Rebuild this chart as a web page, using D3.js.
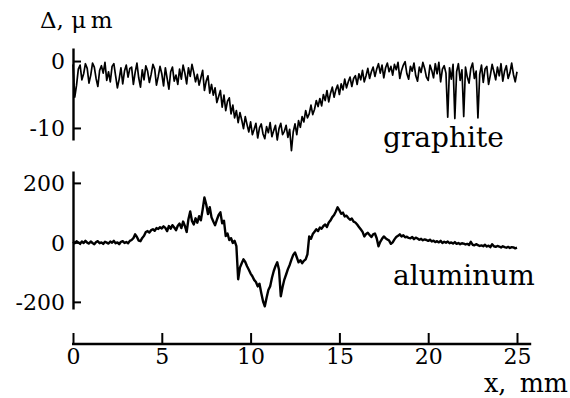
<!DOCTYPE html>
<html>
<head>
<meta charset="utf-8">
<script src="https://cdn.jsdelivr.net/npm/d3@7"></script>
<style>
  html, body { margin: 0; padding: 0; background: #fff; }
  svg { display: block; }
  .lbl { font-family: "DejaVu Serif", serif; font-size: 28px; fill: #000; }
</style>
</head>
<body>
<div id="chart"></div>
<script>
// x positions, mm (0.1 mm step)
const xStep = 0.1;
const xTicks = [0, 5, 10, 15, 20, 25];
const xExtent = [0, 25.8];

// graphite profile, um
const graphite = [
  -0.5, -5.4, -3.6, -1.2, -0.6, -2.8, -1.9, -0.4, -1.1, -3.3,
  -2.1, -0.3, -0.9, -2.6, -3.8, -1.4, -0.7, -1.8, -0.2, -2.9,
  -1.6, -3.1, -0.8, -0.4, -2.2, -4.0, -2.7, -1.0, -3.4, -1.5,
  -0.6, -2.4, -1.1, -0.9, -3.5, -1.7, -0.3, -2.5, -3.9, -1.3,
  -2.8, -0.7, -1.5, -3.2, -2.0, -0.5, -1.2, -3.6, -2.3, -0.8,
  -1.9, -3.7, -1.0, -2.6, -4.2, -1.6, -0.9, -3.0, -2.1, -3.5,
  -1.2, -2.7, -0.6, -1.8, -3.4, -1.0, -2.3, -0.5, -1.7, -3.1,
  -2.0, -3.6, -2.5, -1.4, -4.4, -3.0, -2.2, -4.8, -3.5, -5.1,
  -4.0, -6.2, -5.3, -4.4, -6.9, -5.1, -7.4, -6.0, -5.5, -7.9,
  -6.6, -8.5, -7.4, -9.2, -7.7, -8.8, -10.1, -8.3, -9.5, -10.6,
  -9.1, -11.0, -10.2, -9.3, -11.5, -10.0, -9.4, -10.9, -11.6, -9.8,
  -10.7, -9.2, -11.3, -10.4, -9.6, -11.8, -10.1, -9.3, -11.0, -10.5,
  -9.6, -11.4, -10.2, -13.4, -10.6, -9.4, -11.0, -8.9, -9.9, -8.3,
  -9.1, -7.4, -8.5, -7.9, -6.6, -8.0, -7.2, -5.9, -6.8, -5.6,
  -6.7, -5.0, -5.9, -4.4, -6.1, -4.8, -3.9, -5.4, -4.3, -3.6,
  -5.0, -3.4, -4.3, -2.7, -4.0, -3.1, -2.4, -3.8, -2.6, -2.2,
  -3.5, -1.9, -2.8, -1.4, -3.1, -2.2, -1.1, -2.6, -1.6, -0.9,
  -2.3, -1.2, -0.4, -1.8, -0.6, -2.5, -1.0, -0.3, -1.6, -0.8,
  -2.1, -0.5, -1.3, -0.2, -2.6, -1.4, -0.6, -0.1, -1.9, -2.7,
  -0.8, -1.5, -0.3, -2.2, -3.0, -0.9, -1.7, -0.2, -1.1, -2.4,
  -2.9, -0.6, -1.4, -2.5, -0.4, -1.9, -0.2, -3.1, -1.2, -0.7,
  -1.8, -8.4, -1.0, -2.7, -0.5, -8.6, -1.6, -0.4, -2.9, -1.3,
  -8.3, -0.9, -2.4, -3.3, -1.1, -0.3, -2.6, -1.5, -8.5, -2.0,
  -0.6, -3.2, -1.2, -0.8, -3.5, -2.1, -0.5, -1.6, -2.8, -0.9,
  -2.2, -0.4, -3.0, -1.5, -0.7, -2.6, -1.8, -0.3, -2.0, -3.1,
  -1.6
];
const graphiteTicks = [0, -10];
const graphiteDomain = [-11.8, 1.95];

// aluminum profile, um
const aluminum = [
  2, -3, 4, 0, -5, 3, -2, 5, -1, -4,
  3, -2, -6, 1, 4, -3, 0, -5, 2, -1,
  -4, 3, -1, 5, -3, 0, -6, 2, 4, -2,
  1, -3, 5, 8, 14, 27, 18, 6, 4, 15,
  22, 35, 38, 33, 41, 44, 39, 48, 45, 51,
  47, 54, 49, 38, 55, 46, 58, 50, 41, 56,
  63, 48, 70, 55, 35, 78, 104, 72, 60, 81,
  66, 88, 74, 110, 151, 128, 95, 118, 84, 70,
  58, 76, 92, 101, 64, 73, 21, 30, 8, 14,
  -2, 5, -13, -124, -85, -70, -57, -66, -80, -92,
  -105, -114, -126, -133, -148, -139, -170, -198, -215, -186,
  -160, -148, -120, -97, -80, -67, -92, -181, -150, -125,
  -108, -90, -76, -58, -42, -34, -50, -67, -60, -70,
  -62, -57, -40, 20, 12, 28, 36, 44, 38, 50,
  46, 55, 60, 52, 67, 74, 85, 92, 104, 118,
  108, 96, 100, 87, 90, 82, 76, 80, 70, 67,
  60, 52, 44, 36, 20, 28, 32, 25, 18, 27,
  30, 14, -13, 2, 12, 20, 14, 10, 6, -5,
  0, 10, 18, 22, 27, 20, 24, 17, 19, 15,
  14, 18, 11, 16, 13, 9, 12, 7, 10, 8,
  5, 9, 3, 6, 1, 4, 0, 5, -2, 2,
  -1, 3, -3, 0, -4, 1, -5, -2, -6, -3,
  -4, -7, -5, -9, 2, -8, -10, -6, -9, -12,
  -10, -13, -8, -14, -11, -16, -6, -13, -15, -12,
  -14, -17, -13, -16, -18, -15, -19, -16, -17, -20,
  -18
];
const aluminumTicks = [200, 0, -200];
const aluminumDomain = [-224, 240];

const width = 570, height = 398;

const svg = d3.select("#chart").append("svg")
  .attr("width", width)
  .attr("height", height);

const x = d3.scaleLinear().domain([0, 25]).range([73, 517]);
const yG = d3.scaleLinear().domain(graphiteDomain).range([140, 48]);
const yA = d3.scaleLinear().domain(aluminumDomain).range([309, 171]);

const fmt = d => String(d);

function styleTicks(g) {
  g.attr("font-family", "DejaVu Serif").attr("font-size", 22);
  g.selectAll(".tick line").attr("stroke", "#000").attr("stroke-width", 2);
  g.selectAll(".tick text")
    .attr("fill", "#000")
    .style("font-family", "'DejaVu Serif', serif")
    .style("font-size", "22px");
}

function yAxis(scale, ticks) {
  const g = svg.append("g")
    .attr("transform", "translate(" + x(0) + ",0)")
    .call(d3.axisLeft(scale).tickValues(ticks).tickFormat(fmt)
      .tickSizeInner(-8).tickSizeOuter(0).tickPadding(8));
  g.select(".domain").attr("stroke", "#000").attr("stroke-width", 2.4);
  styleTicks(g);
  g.selectAll(".tick text").attr("dy", "0.36em");
}
yAxis(yG, graphiteTicks);
yAxis(yA, aluminumTicks);

// x axis
const xa = svg.append("g")
  .attr("transform", "translate(0,344)")
  .call(d3.axisBottom(x).tickValues(xTicks).tickSizeInner(-11).tickSizeOuter(0).tickPadding(4));
xa.select(".domain").remove();
styleTicks(xa);
xa.append("line")
  .attr("x1", x(xExtent[0]) - 1).attr("x2", x(xExtent[1]))
  .attr("stroke", "#000").attr("stroke-width", 2.6);

// curves
const lineG = d3.line().x((d, i) => x(i * xStep)).y(d => yG(d));
const lineA = d3.line().x((d, i) => x(i * xStep)).y(d => yA(d));

svg.append("path").datum(graphite)
  .attr("d", lineG)
  .attr("fill", "none").attr("stroke", "#000").attr("stroke-width", 1.7)
  .attr("stroke-linejoin", "round");

svg.append("path").datum(aluminum)
  .attr("d", lineA)
  .attr("fill", "none").attr("stroke", "#000").attr("stroke-width", 2.4)
  .attr("stroke-linejoin", "round");

// labels
svg.append("text").attr("class", "lbl").attr("x", 40).attr("y", 28)
  .style("font-size", "23px").text("\u0394, \u03bc\u2009m");
svg.append("text").attr("class", "lbl").attr("x", 383).attr("y", 147).text("graphite");
svg.append("text").attr("class", "lbl").attr("x", 393).attr("y", 285).text("aluminum");
svg.append("text").attr("class", "lbl").attr("x", 568).attr("y", 392)
  .attr("text-anchor", "end").style("font-size", "25.5px").text("x,\u2009 mm");
</script>
</body>
</html>
